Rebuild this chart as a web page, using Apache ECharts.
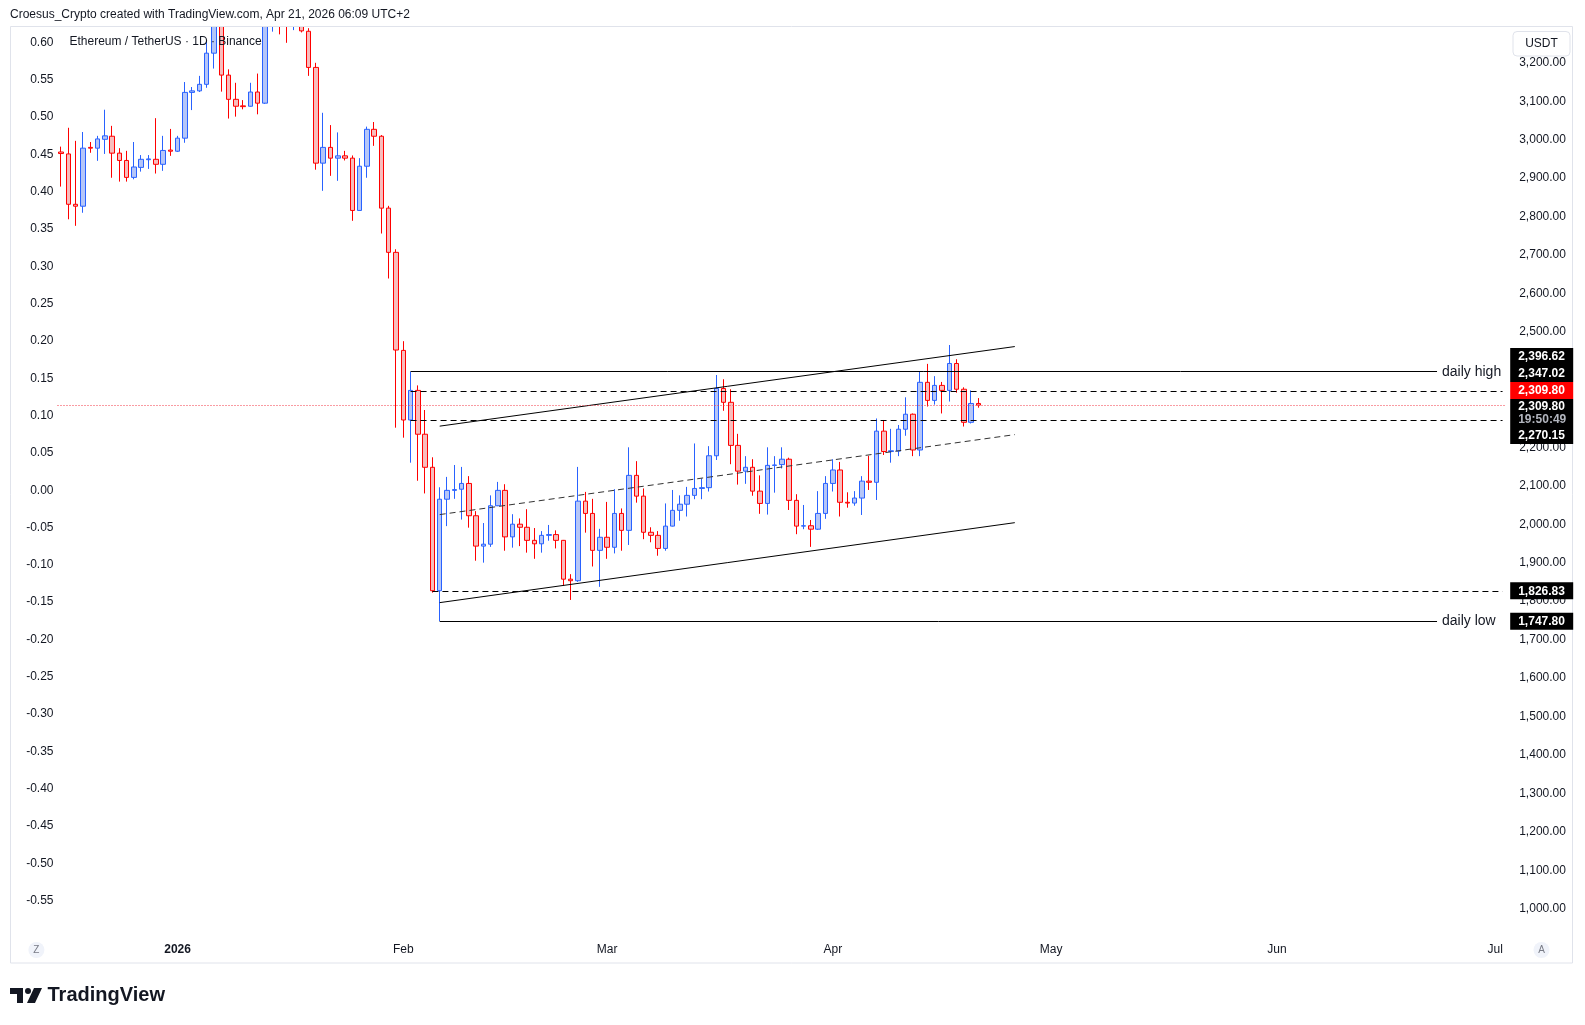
<!DOCTYPE html>
<html><head><meta charset="utf-8">
<script src="https://cdn.jsdelivr.net/npm/echarts@6/dist/echarts.min.js"></script>
<style>html,body{margin:0;padding:0;background:#fff;}#c{width:1585px;height:1025px;}</style>
</head><body><div id="c"></div>
<script>
// ---------- DATA ----------
// [date, open, high, low, close]
const candles = [
['2025-12-16',2968,2982,2878,2964],['2025-12-17',2963,3031,2793,2832],['2025-12-18',2832,2997,2776,2827],
['2025-12-19',2827,3020,2810,2978],['2025-12-20',2980,2994,2966,2978],['2025-12-21',2978,3010,2945,3002],
['2025-12-22',3001,3078,2963,3010],['2025-12-23',3009,3036,2901,2965],['2025-12-24',2965,2978,2891,2946],
['2025-12-25',2946,2971,2891,2902],['2025-12-26',2902,2994,2897,2929],['2025-12-27',2928,2960,2917,2949],
['2025-12-28',2948,2960,2924,2950],['2025-12-29',2949,3056,2912,2936],['2025-12-30',2936,3010,2919,2972],
['2025-12-31',2973,3028,2958,2970],
['2026-01-01',2970,3010,2968,3004],['2026-01-02',3004,3150,2992,3123],['2026-01-03',3123,3137,3077,3127],
['2026-01-04',3127,3166,3124,3144],['2026-01-05',3144,3258,3135,3225],['2026-01-06',3225,3330,3185,3310],
['2026-01-07',3310,3320,3125,3168],['2026-01-08',3168,3183,3055,3105],['2026-01-09',3105,3148,3060,3087],
['2026-01-10',3088,3103,3079,3086],['2026-01-11',3087,3148,3086,3124],['2026-01-12',3124,3172,3066,3095],
['2026-01-13',3095,3360,3093,3330],['2026-01-14',3330,3400,3281,3370],['2026-01-15',3370,3400,3274,3320],
['2026-01-16',3320,3350,3252,3300],['2026-01-17',3300,3330,3285,3310],['2026-01-18',3310,3320,3279,3283],
['2026-01-19',3282,3290,3166,3188],['2026-01-20',3188,3200,2922,2939],['2026-01-21',2939,3070,2867,2980],
['2026-01-22',2980,3038,2906,2952],['2026-01-23',2952,3019,2893,2958],['2026-01-24',2958,2971,2946,2952],
['2026-01-25',2952,2959,2789,2816],['2026-01-26',2816,2952,2815,2931],['2026-01-27',2931,3034,2901,3027],
['2026-01-28',3027,3046,2984,3009],['2026-01-29',3009,3012,2756,2822],['2026-01-30',2822,2828,2639,2707],
['2026-01-31',2707,2715,2251,2453],
['2026-02-01',2452,2476,2225,2271],['2026-02-02',2271,2396.62,2160,2348],['2026-02-03',2348,2361,2113,2234],
['2026-02-04',2234,2297,2080,2148],['2026-02-05',2148,2174,1822,1827],['2026-02-06',1827,2096,1747.8,2065],
['2026-02-07',2065,2123,1995,2088],['2026-02-08',2088,2154,2066,2090],['2026-02-09',2091,2149,2012,2106],
['2026-02-10',2106,2125,1991,2022],['2026-02-11',2022,2034,1905,1943],['2026-02-12',1943,2003,1900,1948],
['2026-02-13',1948,2075,1941,2048],['2026-02-14',2048,2110,2047,2088],['2026-02-15',2088,2104,1931,1967],
['2026-02-16',1967,2026,1939,2000],['2026-02-17',2000,2015,1943,1992],['2026-02-18',1992,2039,1926,1958],
['2026-02-19',1958,1990,1910,1949],['2026-02-20',1949,1982,1926,1971],['2026-02-21',1971,1998,1957,1973],
['2026-02-22',1973,1984,1937,1958],['2026-02-23',1958,1959,1840,1857],['2026-02-24',1857,1870,1803,1853],
['2026-02-25',1853,2149,1850,2060],['2026-02-26',2060,2084,1978,2028],['2026-02-27',2028,2066,1890,1932],
['2026-02-28',1932,1988,1837,1966],
['2026-03-01',1966,2058,1910,1940],['2026-03-02',1940,2091,1924,2028],['2026-03-03',2028,2041,1931,1984],
['2026-03-04',1984,2200,1946,2127],['2026-03-05',2127,2164,2056,2073],['2026-03-06',2073,2093,1961,1979],
['2026-03-07',1979,1992,1953,1971],['2026-03-08',1971,1982,1918,1937],['2026-03-09',1937,2054,1931,1995],
['2026-03-10',1995,2089,1994,2036],['2026-03-11',2036,2075,2009,2052],['2026-03-12',2052,2097,2020,2075],
['2026-03-13',2075,2210,2065,2093],['2026-03-14',2093,2119,2065,2095],['2026-03-15',2095,2203,2085,2178],
['2026-03-16',2178,2388,2167,2353],['2026-03-17',2353,2377,2295,2317],['2026-03-18',2317,2351,2156,2205],
['2026-03-19',2205,2235,2103,2138],['2026-03-20',2138,2177,2105,2148],['2026-03-21',2148,2169,2074,2086],
['2026-03-22',2086,2127,2027,2054],['2026-03-23',2054,2200,2025,2153],['2026-03-24',2153,2177,2082,2154],
['2026-03-25',2155,2200,2145,2169],['2026-03-26',2169,2173,2037,2062],['2026-03-27',2062,2078,1974,1995],
['2026-03-28',1995,2050,1987,1996],['2026-03-29',1996,2011,1941,1987],['2026-03-30',1987,2086,1985,2028],
['2026-03-31',2028,2125,2014,2106],
['2026-04-01',2106,2169,2085,2141],['2026-04-02',2141,2162,2020,2057],['2026-04-03',2057,2083,2043,2055],
['2026-04-04',2055,2086,2048,2068],['2026-04-05',2068,2125,2024,2112],['2026-04-06',2112,2178,2089,2109],
['2026-04-07',2109,2275,2063,2242],['2026-04-08',2242,2271,2180,2189],['2026-04-09',2189,2248,2160,2191],
['2026-04-10',2190,2258,2177,2247],['2026-04-11',2247,2330,2230,2286],['2026-04-12',2286,2288,2177,2193],
['2026-04-13',2193,2397,2177,2369],['2026-04-14',2369,2417,2306,2322],['2026-04-15',2322,2385,2311,2361],
['2026-04-16',2361,2370,2288,2348],['2026-04-17',2348,2466,2319,2418],['2026-04-18',2418,2429,2342,2351],
['2026-04-19',2351,2356,2254,2265],['2026-04-20',2265,2348,2262,2314],['2026-04-21',2314,2328,2303,2309.8]
];
const axisEndDate = '2026-07-02';
const monthNames = ['Jan','Feb','Mar','Apr','May','Jun','Jul','Aug','Sep','Oct','Nov','Dec'];
const rightTicks = [1000,1100,1200,1300,1400,1500,1600,1700,1800,1900,2000,2100,2200,2300,2400,2500,2600,2700,2800,2900,3000,3100,3200];
const leftTicks = [0.60,0.55,0.50,0.45,0.40,0.35,0.30,0.25,0.20,0.15,0.10,0.05,0.00,-0.05,-0.10,-0.15,-0.20,-0.25,-0.30,-0.35,-0.40,-0.45,-0.50,-0.55];
const priceRange = [923.8, 3293.1];
const leftRange = [-0.6001, 0.6208];

// drawings
const channelDates = ['2026-02-06','2026-04-26'];
const channelUpper = [2255, 2462];
const channelMid = [2025, 2233];
const channelLower = [1796, 2004];
const dailyHigh = {from:'2026-02-02', to:'2026-06-23', value:2396.62, text:'daily high'};
const dailyLow = {from:'2026-02-06', to:'2026-06-23', value:1747.80, text:'daily low'};
const dashedLevels = [{from:'2026-02-02', value:2347.02},{from:'2026-02-02', value:2270.15},{from:'2026-02-05', value:1826.83}];
const lastPrice = 2309.80;
const priceTags = [
  {value:2396.62, text:'2,396.62', bg:'#000000'},
  {value:2347.02, text:'2,347.02', bg:'#000000'},
  {value:2309.80, text:'2,309.80', bg:'#FF0000'},
  {value:2309.80, text:'2,309.80', sub:'19:50:49', bg:'#000000'},
  {value:2270.15, text:'2,270.15', bg:'#000000'},
  {value:1826.83, text:'1,826.83', bg:'#000000'},
  {value:1747.80, text:'1,747.80', bg:'#000000'}
];

// ---------- BUILD ----------
function nextDay(s){const d=new Date(s+'T00:00:00Z');d.setUTCDate(d.getUTCDate()+1);return d.toISOString().slice(0,10);}
const categories = candles.map(r=>r[0]);
while(categories[categories.length-1] < axisEndDate){categories.push(nextDay(categories[categories.length-1]));}
const seriesData = candles.map(r=>[r[1],r[4],r[3],r[2]]);

const FONT = 'Liberation Sans, Arial, sans-serif';
const TXT = '#131722';
const GRID = {left:57.5, right:78.8, top:27, bottom:87};

const solid = {color:'#000', width:1, type:'solid'};
const dashed = {color:'#000', width:1, type:[6,4]};
function seg(d1,v1,d2,v2,style,label){
  return [{coord:[d1,v1], lineStyle:style, label: label || {show:false}}, {coord:[d2,v2]}];
}
const mlData = [
  seg(channelDates[0],channelUpper[0],channelDates[1],channelUpper[1],solid),
  seg(channelDates[0],channelLower[0],channelDates[1],channelLower[1],solid),
  seg(channelDates[0],channelMid[0],channelDates[1],channelMid[1],{color:'#333',width:1,type:[6,4]}),
  seg(dailyHigh.from,dailyHigh.value,dailyHigh.to,dailyHigh.value,solid,
      {show:true,position:'end',distance:5,formatter:dailyHigh.text,color:TXT,fontSize:14,fontFamily:FONT}),
  seg(dailyLow.from,dailyLow.value,dailyLow.to,dailyLow.value,solid,
      {show:true,position:'end',distance:5,formatter:dailyLow.text,color:TXT,fontSize:14,fontFamily:FONT})
];
dashedLevels.forEach(l=>mlData.push(seg(l.from,l.value,axisEndDate,l.value,dashed)));
mlData.push({yAxis:lastPrice, lineStyle:{color:'#F23645',width:1,type:[1,2]}, label:{show:false}});

const chart = echarts.init(document.getElementById('c'), null, {renderer:'canvas'});
const option = {
  animation:false,
  backgroundColor:'#ffffff',
  textStyle:{fontFamily:FONT},
  grid:GRID,
  xAxis:{
    type:'category', data:categories, boundaryGap:true,
    axisLine:{show:false}, axisTick:{show:false}, splitLine:{show:false},
    axisLabel:{
      interval:(i,v)=>v.slice(8)==='01',
      formatter:v=>{const m=+v.slice(5,7);return m===1?'{y|'+v.slice(0,4)+'}':monthNames[m-1];},
      color:TXT, fontSize:12, margin:6, fontFamily:FONT,
      rich:{y:{fontWeight:'bold',fontSize:12,color:TXT,fontFamily:FONT}}
    }
  },
  yAxis:[
    {type:'value', position:'right', min:priceRange[0], max:priceRange[1], scale:true,
     axisLine:{show:false}, axisTick:{show:false}, splitLine:{show:false},
     axisLabel:{customValues:rightTicks, color:TXT, fontSize:12, margin:13, fontFamily:FONT,
       formatter:v=>v.toLocaleString('en-US',{minimumFractionDigits:2,maximumFractionDigits:2})}},
    {type:'value', position:'left', min:leftRange[0], max:leftRange[1],
     axisLine:{show:false}, axisTick:{show:false}, splitLine:{show:false},
     axisLabel:{customValues:leftTicks, color:TXT, fontSize:12, margin:4, fontFamily:FONT,
       formatter:v=>v.toFixed(2)}}
  ],
  series:[{
    type:'candlestick', data:seriesData, barWidth:5, clip:true,
    itemStyle:{color:'#B5C6F8', color0:'#F8BDBD', borderColor:'#2962FF', borderColor0:'#FF0000', borderWidth:1},
    markLine:{symbol:['none','none'], silent:true, animation:false, data:mlData}
  }]
};
chart.setOption(option);

// static decorations
const staticG = [
  // white header band hides the parts of candles that run above the pane top
  {type:'rect', z:40, silent:true, shape:{x:0,y:0,width:1585,height:26.5}, style:{fill:'#ffffff'}},
  {type:'rect', z:50, silent:true, shape:{x:10.5,y:26.5,width:1562,height:936.5}, style:{fill:null, stroke:'#E0E3EB', lineWidth:1}},
  {type:'text', z:100, style:{x:10, y:14.5, text:'Croesus_Crypto created with TradingView.com, Apr 21, 2026 06:09 UTC+2', font:'12px '+FONT, fill:TXT, verticalAlign:'middle'}},
  {type:'text', z:100, style:{x:69.5, y:41.5, text:'Ethereum / TetherUS · 1D · Binance', font:'12px '+FONT, fill:TXT, verticalAlign:'middle'}},
  {type:'rect', z:100, shape:{x:1513,y:31.5,width:57,height:24.5,r:4}, style:{fill:'#fff', stroke:'#E0E3EB', lineWidth:1}},
  {type:'text', z:101, style:{x:1541.5, y:44, text:'USDT', font:'12px '+FONT, fill:TXT, align:'center', verticalAlign:'middle'}},
  {type:'circle', z:100, shape:{cx:36.4,cy:950,r:8}, style:{fill:'#F0F3FA'}},
  {type:'text', z:101, style:{x:36.4, y:950, text:'Z', font:'10px '+FONT, fill:'#787B86', align:'center', verticalAlign:'middle'}},
  {type:'circle', z:100, shape:{cx:1541.5,cy:950,r:8}, style:{fill:'#F0F3FA'}},
  {type:'text', z:101, style:{x:1541.5, y:950, text:'A', font:'10px '+FONT, fill:'#787B86', align:'center', verticalAlign:'middle'}},
  {type:'polygon', z:100, shape:{points:[[10,988],[23,988],[23,1003],[17,1003],[17,994],[10,994]]}, style:{fill:'#131722'}},
  {type:'circle', z:100, shape:{cx:28,cy:991,r:3}, style:{fill:'#131722'}},
  {type:'polygon', z:100, shape:{points:[[34,988],[42,988],[35,1003],[27,1003]]}, style:{fill:'#131722'}},
  {type:'text', z:100, style:{x:47.5, y:995, text:'TradingView', font:'bold 20px '+FONT, fill:'#131722', verticalAlign:'middle'}}
];

// price tags on right scale (stacked to avoid overlap)
function buildTags(){
  const items = priceTags.map((t,i)=>({...t, i, y:chart.convertToPixel({yAxisIndex:0}, t.value), h:t.sub?28:17}));
  items.sort((a,b)=>a.y-b.y || a.i-b.i);
  let groups = items.map(it=>({items:[it], minY:it.y, maxY:it.y, H:it.h}));
  const lay = g=>{const c=(g.minY+g.maxY)/2; g.top=c-g.H/2; g.bottom=g.top+g.H;};
  let changed=true;
  while(changed){
    changed=false; groups.forEach(lay);
    for(let k=0;k<groups.length-1;k++){
      if(groups[k].bottom>groups[k+1].top){
        const a=groups[k], b=groups[k+1];
        groups.splice(k,2,{items:a.items.concat(b.items),minY:Math.min(a.minY,b.minY),maxY:Math.max(a.maxY,b.maxY),H:a.H+b.H});
        changed=true; break;
      }
    }
  }
  const boxX = 1585-GRID.right+4;
  const out=[];
  groups.forEach(g=>{
    let y=g.top;
    g.items.forEach(it=>{
      out.push({type:'rect', z:200, shape:{x:boxX,y:y,width:63,height:it.h}, style:{fill:it.bg}});
      if(it.sub){
        out.push({type:'text', z:201, style:{x:boxX+8, y:y+7.5, text:it.text, font:'bold 12px '+FONT, fill:'#fff', verticalAlign:'middle'}});
        out.push({type:'text', z:201, style:{x:boxX+8, y:y+20.5, text:it.sub, font:'bold 12px '+FONT, fill:'#B2B5BE', verticalAlign:'middle'}});
      } else {
        out.push({type:'text', z:201, style:{x:boxX+8, y:y+it.h/2+0.5, text:it.text, font:'bold 12px '+FONT, fill:'#fff', verticalAlign:'middle'}});
      }
      y+=it.h;
    });
  });
  return out;
}
chart.setOption({graphic: staticG.concat(buildTags())});
</script></body></html>
